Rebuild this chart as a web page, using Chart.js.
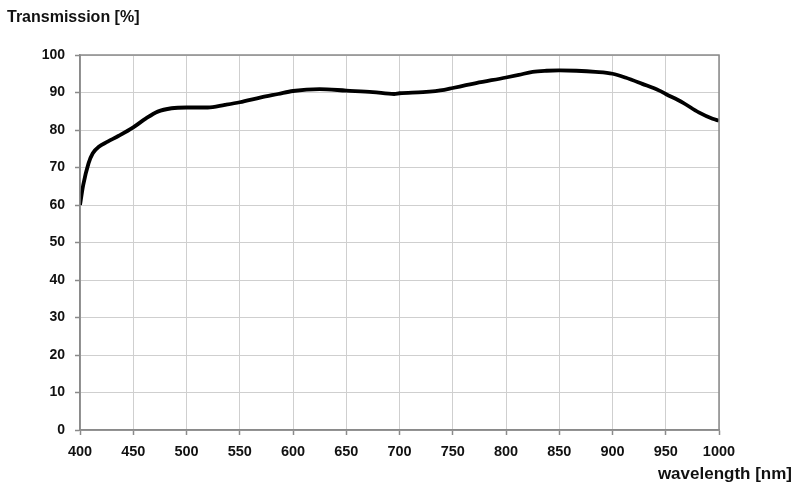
<!DOCTYPE html>
<html>
<head>
<meta charset="utf-8">
<script src="https://cdn.jsdelivr.net/npm/chart.js@4.4.1/dist/chart.umd.min.js"></script>
<style>
    html, body { margin: 0; padding: 0; background: #fff; }
    #wrap { width: 800px; height: 492px; }
</style>
</head>
<body>
<div id="wrap"><canvas id="canvasT"></canvas></div>
<script>
// values
var wavelengths = [400, 403, 408, 412, 418, 426, 436, 450, 462, 473, 486, 500, 520, 536, 550, 570, 586, 600,
    625, 650, 675, 695, 700, 722, 742, 750, 772, 800, 812, 825, 838, 850, 866, 884, 900, 912, 928, 944,
    950, 966, 981, 994, 1000];
var transmission = [60, 65.3, 71.1, 73.8, 75.6, 76.9, 78.4, 80.7, 83.1, 84.9, 85.8, 86.0, 86.0, 86.7, 87.4, 88.7, 89.6, 90.4,
    90.9, 90.5, 90.1, 89.6, 89.8, 90.1, 90.7, 91.2, 92.5, 94.0, 94.7, 95.5, 95.8, 95.9, 95.8, 95.5, 95.0, 94.0, 92.3, 90.5,
    89.6, 87.3, 84.7, 83.0, 82.5];
var xTicks = [400, 450, 500, 550, 600, 650, 700, 750, 800, 850, 900, 950, 1000];
var yTicks = [0, 10, 20, 30, 40, 50, 60, 70, 80, 90, 100];
var yTitle = 'Transmission [%]';
var xTitle = 'wavelength [nm]';

var fontFamily = 'Arial, "Liberation Sans", sans-serif';

// 外枠と軸タイトル
var framePlugin = {
    id: 'frame',
    afterDraw: function(chart) {
        var ctx = chart.ctx;
        var a = chart.chartArea;
        ctx.save();
        ctx.strokeStyle = '#8a8a8a';
        ctx.lineWidth = 1.5;
        ctx.strokeRect(a.left, a.top, a.right - a.left, a.bottom - a.top);
        ctx.fillStyle = '#111';
        ctx.font = 'bold 16px ' + fontFamily;
        ctx.textAlign = 'left';
        ctx.textBaseline = 'alphabetic';
        ctx.fillText(yTitle, 7, 22);
        ctx.font = 'bold 17px ' + fontFamily;
        ctx.textAlign = 'right';
        ctx.fillText(xTitle, 792, 479);
        ctx.restore();
    }
};

var points = wavelengths.map(function(w, i) {
    return { x: w, y: transmission[i] };
});

var ctx = document.getElementById('canvasT').getContext('2d');
var myChart = new Chart(ctx, {
    type: 'line',
    data: {
        datasets: [{
            data: points,
            borderColor: '#000',
            borderWidth: 3.8,
            pointRadius: 0,
            fill: false,
            cubicInterpolationMode: 'monotone'
        }]
    },
    options: {
        responsive: true,
        maintainAspectRatio: false,
        animation: false,
        layout: {
            padding: { left: 0, right: 81, top: 55, bottom: 0 }
        },
        plugins: {
            legend: { display: false },
            tooltip: { enabled: false }
        },
        scales: {
            x: {
                type: 'linear',
                min: 400,
                max: 1000,
                afterBuildTicks: function(scale) {
                    scale.ticks = xTicks.map(function(v) { return { value: v }; });
                },
                afterFit: function(scale) { scale.height = 62; },
                grid: {
                    color: '#cfcfcf',
                    lineWidth: 1,
                    borderDash: [2, 1],
                    tickLength: 5,
                    tickColor: '#8a8a8a',
                    tickWidth: 1.5
                },
                border: { display: true, color: '#8a8a8a', width: 1.5 },
                ticks: {
                    color: '#111',
                    padding: 8,
                    maxRotation: 0,
                    autoSkip: false,
                    callback: function(value) { return String(value); },
                    font: { family: fontFamily, size: 14.5, weight: 'bold' }
                }
            },
            y: {
                min: 0,
                max: 100,
                afterBuildTicks: function(scale) {
                    scale.ticks = yTicks.map(function(v) { return { value: v }; });
                },
                afterFit: function(scale) { scale.width = 80; },
                grid: {
                    color: '#cfcfcf',
                    lineWidth: 1,
                    borderDash: [2, 1],
                    tickLength: 5,
                    tickColor: '#8a8a8a',
                    tickWidth: 1.5
                },
                border: { display: true, color: '#8a8a8a', width: 1.5 },
                ticks: {
                    color: '#111',
                    padding: 10,
                    autoSkip: false,
                    callback: function(value) { return String(value); },
                    font: { family: fontFamily, size: 14, weight: 'bold' }
                }
            }
        }
    },
    plugins: [framePlugin]
});
</script>
</body>
</html>
